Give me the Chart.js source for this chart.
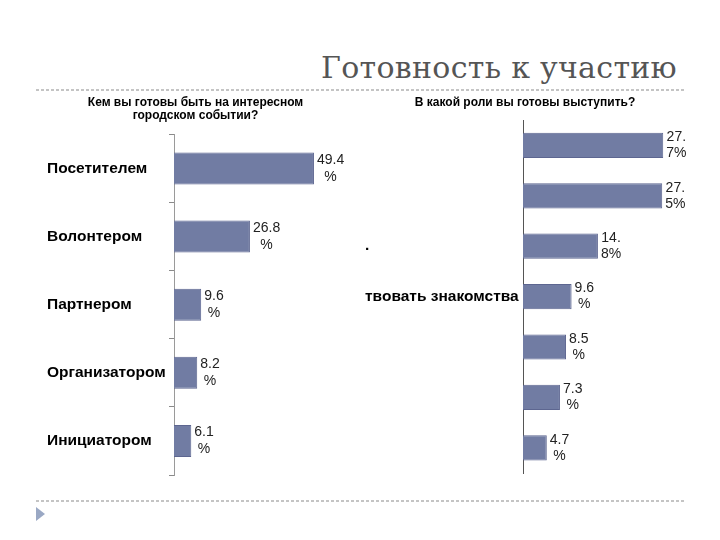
<!DOCTYPE html>
<html>
<head>
<meta charset="utf-8">
<script src="https://cdn.jsdelivr.net/npm/chart.js@4.4.1/dist/chart.umd.min.js"></script>
<style>
  body { margin: 0; background: #fff; }
  #slide { position: relative; width: 720px; height: 540px; overflow: hidden; background: #fff; }
  .dots { position: absolute; left: 36px; width: 648px; height: 2px;
          background: repeating-linear-gradient(90deg, #c4c4c4 0 3px, transparent 3px 5px); }
  #heading { position: absolute; right: 43px; top: 53px; font: 30px "DejaVu Serif", serif;
             line-height: 30px; color: #555; white-space: nowrap; letter-spacing: 0.3px; }
  #arrow { position: absolute; left: 36px; top: 507px; width: 0; height: 0;
           border-top: 7px solid transparent; border-bottom: 7px solid transparent;
           border-left: 9px solid #9aa8c4; }
  canvas { position: absolute; }
</style>
</head>
<body>
<div id="slide">
  <div id="heading">Готовность к участию</div>
  <div class="dots" style="top:89px"></div>
  <div class="dots" style="top:500px"></div>
  <div id="arrow"></div>
  <canvas id="leftChart" width="330" height="400" style="left:30px; top:92px"></canvas>
  <canvas id="rightChart" width="340" height="400" style="left:360px; top:92px"></canvas>
</div>
<script>
  // left chart: who would you be at the event
  let roleLabels = ["Посетителем", "Волонтером", "Партнером", "Организатором", "Инициатором"];
  let roleShare = [49.4, 26.8, 9.6, 8.2, 6.1];

  // right chart: labels are cut off on the slide, only these fragments show
  let partLabels = ["", "", ".", "твовать знакомства", "", "", ""];
  let partShare = [27.7, 27.5, 14.8, 9.6, 8.5, 7.3, 4.7];

  const barColor = '#717ca3';
  const barEdge = '#5d6690';
  const sans = '"Liberation Sans", Arial, sans-serif';

  // two-line value labels next to the end of each bar
  const barLabels = {
    id: 'barLabels',
    afterDatasetsDraw(chart, args, opts) {
      const ctx = chart.ctx;
      const meta = chart.getDatasetMeta(0);
      const values = chart.data.datasets[0].data;
      ctx.save();
      ctx.font = opts.font;
      ctx.fillStyle = '#222';
      ctx.textAlign = 'center';
      ctx.textBaseline = 'middle';
      meta.data.forEach(function(bar, i) {
        const lines = opts.split(values[i]);
        const w = Math.max(...lines.map(l => ctx.measureText(l).width));
        const cx = bar.x + 3 + w / 2;
        lines.forEach(function(l, k) {
          ctx.fillText(l, cx, bar.y + (k - (lines.length - 1) / 2) * opts.lineHeight);
        });
      });
      ctx.restore();
    }
  };

  function splitLeft(v) {
    return [v.toFixed(1), '%'];
  }

  function splitRight(v) {
    if (v >= 10) {
      const s = v.toFixed(1).split('.');
      return [s[0] + '.', s[1] + '%'];
    }
    return [v.toFixed(1), '%'];
  }

  new Chart(document.getElementById('leftChart'), {
    type: 'bar',
    data: {
      labels: roleLabels,
      datasets: [{
        data: roleShare,
        backgroundColor: barColor,
        borderColor: barEdge,
        borderWidth: 1,
        barPercentage: 0.47,
        categoryPercentage: 1
      }]
    },
    options: {
      indexAxis: 'y',
      responsive: false,
      animation: false,
      layout: { padding: { left: 17, right: 16, top: 0, bottom: 17 } },
      scales: {
        x: { display: false, min: 0, max: 60 },
        y: {
          afterFit: function(s) { s.width = 127; },
          grid: { drawOnChartArea: false, tickLength: 5, color: '#8a8a8a', offset: true },
          border: { color: '#9a9a9a' },
          ticks: {
            crossAlign: 'far',
            color: '#000',
            font: { family: sans, size: 15.5, weight: 'bold' }
          }
        }
      },
      plugins: {
        legend: { display: false },
        tooltip: { enabled: false },
        title: {
          display: true,
          text: ['Кем вы готовы быть на интересном', 'городском событии?'],
          color: '#000',
          font: { family: sans, size: 12, weight: 'bold', lineHeight: 1.1 },
          padding: { top: 4, bottom: 12 }
        },
        barLabels: { font: '14px ' + sans, lineHeight: 17, split: splitLeft }
      }
    },
    plugins: [barLabels]
  });

  new Chart(document.getElementById('rightChart'), {
    type: 'bar',
    data: {
      labels: partLabels,
      datasets: [{
        data: partShare,
        backgroundColor: barColor,
        borderColor: barEdge,
        borderWidth: 1,
        barPercentage: 0.5,
        categoryPercentage: 1
      }]
    },
    options: {
      indexAxis: 'y',
      responsive: false,
      animation: false,
      layout: { padding: { left: 5, right: 15, top: 0, bottom: 19 } },
      scales: {
        x: { display: false, min: 0, max: 32 },
        y: {
          afterFit: function(s) { s.width = 158; },
          grid: { display: false },
          border: { display: true, color: '#555' },
          ticks: {
            crossAlign: 'far',
            color: '#000',
            font: { family: sans, size: 15.5, weight: 'bold' }
          }
        }
      },
      plugins: {
        legend: { display: false },
        tooltip: { enabled: false },
        title: {
          display: true,
          text: 'В какой роли вы готовы выступить?',
          color: '#000',
          font: { family: sans, size: 12, weight: 'bold', lineHeight: 1.1 },
          padding: { top: 4, bottom: 11 }
        },
        barLabels: { font: '14px ' + sans, lineHeight: 16, split: splitRight }
      }
    },
    plugins: [barLabels]
  });
</script>
</body>
</html>
